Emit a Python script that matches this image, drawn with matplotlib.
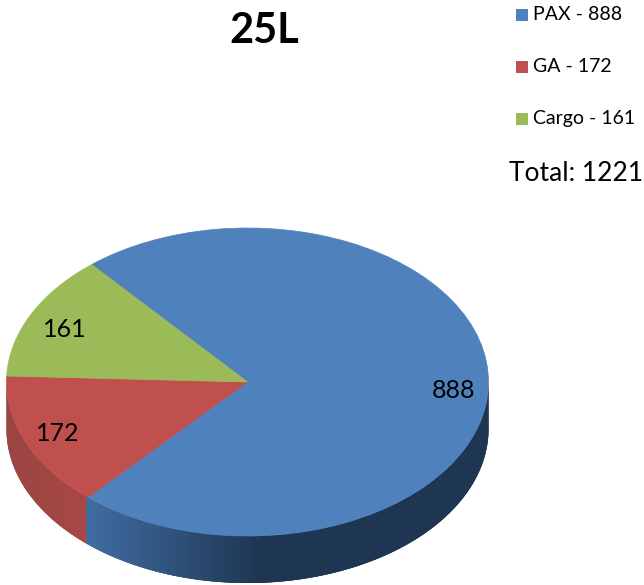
import matplotlib
matplotlib.use('Agg')
import matplotlib.pyplot as plt
import numpy as np

plt.rcParams['font.family'] = ['Lato', 'DejaVu Sans']

# data
categories = ['PAX', 'GA', 'Cargo']
counts = [888, 172, 161]
colors = ['#4f81bd', '#c0504d', '#9bbb59']
title = '25L'

total = sum(counts)
start_angle = 130.3
W, H = 644, 585
cx, cy, rx, ry = 247.5, 382, 241, 154
depth = 47 / ry

fig = plt.figure(figsize=(W / 100, H / 100), dpi=100)
ax = fig.add_axes([0, 0, 1, 1])

# top face of the pie, flattened by the axes scale
wedges, _, autotexts = ax.pie(
    counts, colors=colors, startangle=start_angle, counterclock=False,
    autopct=lambda p: f'{p * total / 100:.0f}', pctdistance=0.85,
    textprops={'fontsize': 18, 'color': 'black'},
    wedgeprops={'linewidth': 0.5}, frame=False)

ax.set_aspect('auto')
ax.set_xlim(-cx / rx, (W - cx) / rx)
ax.set_ylim((cy - H) / ry, cy / ry)
ax.axis('off')
for w, col in zip(wedges, colors):
    w.set_edgecolor(col)
    w.set_zorder(3)

# small nudges of the value labels, in pixels
label_shift = [(1, -7), (-1, 0), (1, -5)]
for t, (dx, dy) in zip(autotexts, label_shift):
    x, y = t.get_position()
    t.set_position((x + dx / rx, y + dy / ry))
    t.set_zorder(4)


def side_color(x):
    if x < (87 - cx) / rx:
        t = np.clip((x + 1) / 0.33, 0, 1)
        a, b = np.array([0.60, 0.27, 0.26]), np.array([0.66, 0.28, 0.27])
    else:
        t = np.clip((x - (87 - cx) / rx) / 0.72, 0, 1)
        a, b = np.array([0.25, 0.43, 0.64]), np.array([0.12, 0.21, 0.32])
    return a + (b - a) * t


# side wall, thin overlapping strips so no seams show
angles = np.radians(np.arange(180, 360.5, 0.5))
for i in range(len(angles) - 1):
    th = angles[i:i + 4]
    x = np.cos(th)
    y = np.sin(th)
    c = side_color(x[:2].mean())
    ax.fill(np.r_[x, x[::-1]], np.r_[y, y[::-1] - depth], color=c,
            linewidth=0, zorder=2)

# title and legend
fig.text(264 / W, 1 - 31 / H, title, fontsize=30, fontweight='bold',
         ha='center', va='center')

leg_y = [15, 67, 119]
for name, n, col, y in zip(categories, counts, colors, leg_y):
    fig.patches.append(plt.Rectangle((516 / W, 1 - (y + 6) / H), 12 / W, 12 / H,
                                     transform=fig.transFigure, facecolor=col,
                                     linewidth=0))
    fig.text(533 / W, 1 - y / H, f'{name} - {n}', fontsize=14, va='center')

fig.text(509 / W, 1 - 173 / H, f'Total: {total}', fontsize=19, va='center')

fig.savefig('out.png', dpi=100)
